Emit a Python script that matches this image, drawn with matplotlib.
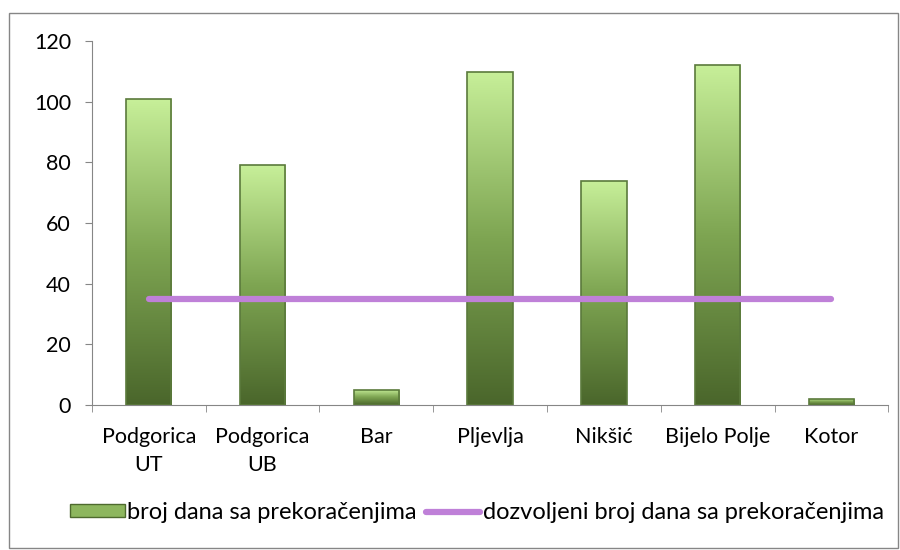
"""Broj dana sa prekoracenjima po mjernim mjestima, bar chart with limit line."""

import matplotlib
matplotlib.use("Agg")
import matplotlib.pyplot as plt
import numpy as np
from matplotlib.colors import LinearSegmentedColormap
from matplotlib.patches import Rectangle

categories = ["Podgorica\nUT", "Podgorica\nUB", "Bar", "Pljevlja", "Nikšić",
              "Bijelo Polje", "Kotor"]
days_exceeded = [101, 79, 5, 110, 74, 112, 2]
days_allowed = [35, 35, 35, 35, 35, 35, 35]

bar_label = "broj dana sa prekoračenjima"
line_label = "dozvoljeni broj dana sa prekoračenjima"

plt.rcParams["font.family"] = ["Lato", "DejaVu Sans"]

fig = plt.figure(figsize=(9, 5.5), dpi=100)
ax = fig.add_axes([0.102, 0.264, 0.885, 0.661])

x = np.arange(len(categories))
width = 0.4
green = LinearSegmentedColormap.from_list("g", ["#4a662b", "#7ea552", "#c7ef99"])
grad = np.linspace(0, 1, 256).reshape(-1, 1)

bars = ax.bar(x, days_exceeded, width, facecolor="none", edgecolor="#5b7a3c",
              linewidth=1.2, zorder=3, label=bar_label)
for b in bars:
    x0, y0 = b.get_x(), b.get_y()
    im = ax.imshow(grad, cmap=green, origin="lower", aspect="auto",
                   extent=[x0, x0 + b.get_width(), y0, y0 + b.get_height()],
                   zorder=2)
    im.set_clip_path(b)

ax.plot(x, days_allowed, color="#bf80d8", linewidth=4.5,
        solid_capstyle="round", zorder=4, label=line_label)

ax.set_xlim(-0.5, len(categories) - 0.5)
ax.set_ylim(0, 120)
ax.set_yticks(range(0, 121, 20))
ax.set_xticks(x)
ax.set_xticklabels(categories, linespacing=1.5)
ax.set_xticks(np.arange(-0.5, len(categories)), minor=True)
ax.tick_params(axis="x", which="major", length=0, pad=16, labelsize=15.5)
ax.tick_params(axis="x", which="minor", length=5, color="#868686")
ax.tick_params(axis="y", length=5, color="#868686", labelsize=15.5, pad=10)

for s in ("top", "right"):
    ax.spines[s].set_visible(False)
for s in ("left", "bottom"):
    ax.spines[s].set_color("#868686")

leg_patch = Rectangle((0, 0), 1, 1, facecolor="#8db65e", edgecolor="#4e6a2e")
handles = [leg_patch, ax.get_lines()[0]]
fig.legend(handles, [bar_label, line_label], loc="center",
           bbox_to_anchor=(0.53, 0.068), ncol=2, frameon=False, fontsize=17,
           handlelength=2.3, handleheight=0.45, handletextpad=0.1,
           columnspacing=0.4)

fig.patches.append(Rectangle((0.010, 0.004), 0.988, 0.972,
                             transform=fig.transFigure, fill=False,
                             edgecolor="#868686", linewidth=1))

fig.savefig("out.png", dpi=100)
